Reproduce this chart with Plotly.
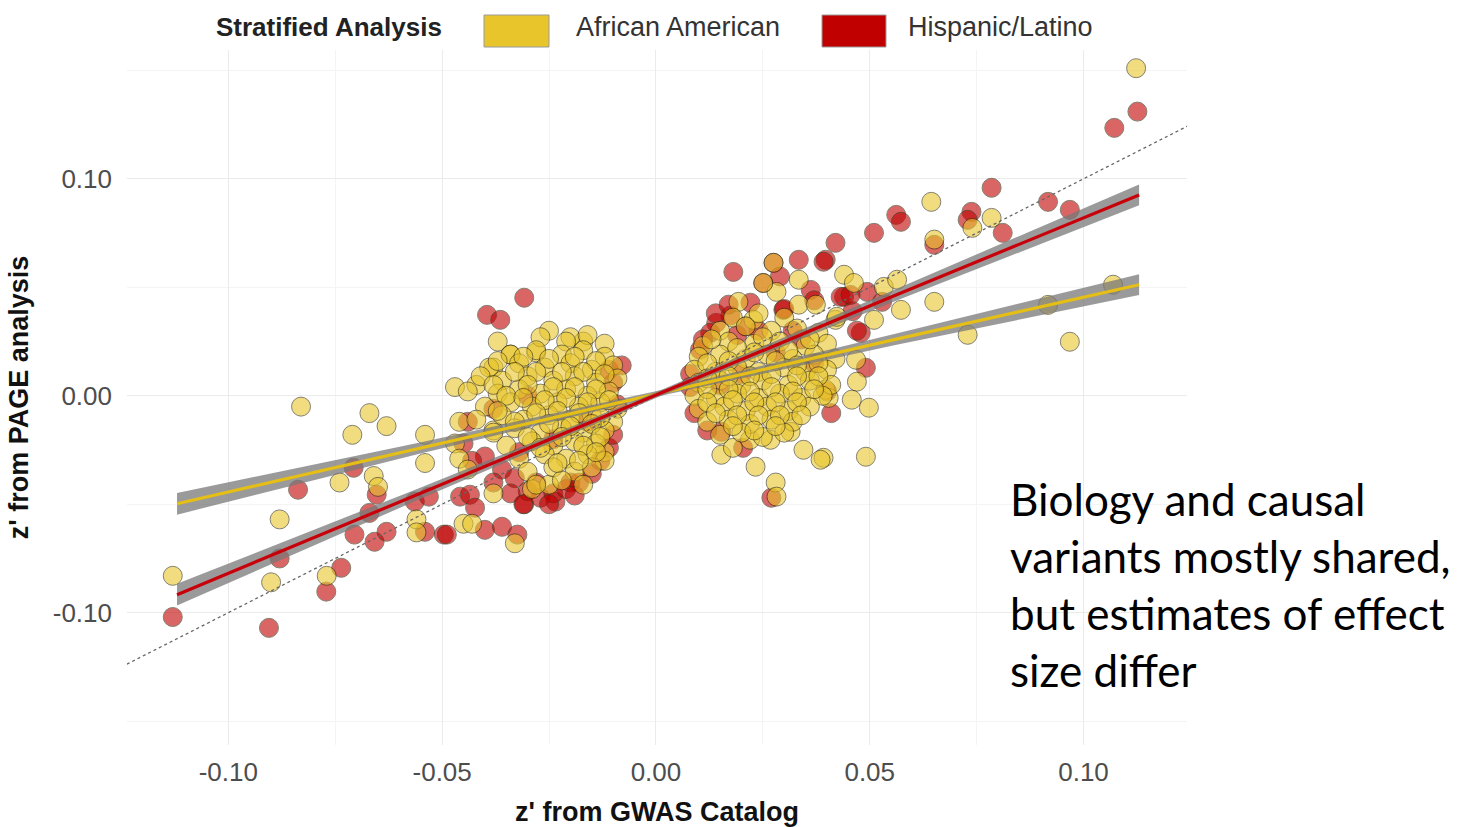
import plotly.graph_objects as go

# ---------------- data ----------------
aa_points = [
    # outer left
    (-0.113, -0.083), (-0.090, -0.086), (-0.088, -0.057), (-0.083, -0.005), (-0.071, -0.018),
    (-0.067, -0.008), (-0.063, -0.014), (-0.074, -0.040), (-0.077, -0.083), (-0.066, -0.037),
    (-0.065, -0.042), (-0.054, -0.018), (-0.054, -0.031), (-0.056, -0.057), (-0.056, -0.063),
    # around left cluster
    (-0.047, 0.004), (-0.042, 0.005), (-0.037, 0.025), (-0.025, 0.030), (-0.034, 0.019),
    (-0.028, 0.020), (-0.038, 0.013), (-0.017, 0.025), (-0.020, 0.027), (-0.047, -0.022),
    (-0.046, -0.029), (-0.044, -0.034), (-0.038, -0.045), (-0.033, -0.068), (-0.045, -0.059),
    (-0.043, -0.059), (-0.012, -0.026), (-0.029, -0.043), (-0.025, -0.041), (-0.038, -0.016),
    (-0.046, -0.012),
    # dense left cluster
    (-0.027, 0.027), (-0.021, 0.025), (-0.016, 0.028), (-0.012, 0.024),
    (-0.034, 0.019), (-0.028, 0.021), (-0.022, 0.019), (-0.017, 0.021), (-0.012, 0.018),
    (-0.039, 0.013), (-0.032, 0.015), (-0.026, 0.013), (-0.020, 0.015), (-0.015, 0.012), (-0.010, 0.014),
    (-0.041, 0.009), (-0.036, 0.007), (-0.030, 0.009), (-0.024, 0.007), (-0.019, 0.009), (-0.014, 0.006), (-0.009, 0.008),
    (-0.044, 0.002), (-0.037, 0.001), (-0.032, 0.003), (-0.027, 0.001), (-0.021, 0.003), (-0.016, 0.000), (-0.011, 0.002),
    (-0.040, -0.005), (-0.034, -0.003), (-0.029, -0.005), (-0.023, -0.003), (-0.018, -0.005), (-0.013, -0.003), (-0.009, -0.006),
    (-0.042, -0.011), (-0.036, -0.009), (-0.031, -0.011), (-0.025, -0.009), (-0.020, -0.011), (-0.015, -0.009), (-0.010, -0.012),
    (-0.038, -0.017), (-0.033, -0.015), (-0.027, -0.017), (-0.022, -0.015), (-0.017, -0.017), (-0.012, -0.016),
    (-0.035, -0.023), (-0.029, -0.021), (-0.024, -0.023), (-0.019, -0.021), (-0.014, -0.022),
    (-0.032, -0.029), (-0.026, -0.027), (-0.021, -0.029), (-0.016, -0.027), (-0.012, -0.030),
    (-0.030, -0.035), (-0.024, -0.033), (-0.019, -0.035), (-0.015, -0.033),
    (-0.028, -0.041), (-0.022, -0.039), (-0.017, -0.041),
    (-0.037, 0.016), (-0.031, 0.018), (-0.025, 0.017), (-0.019, 0.018), (-0.014, 0.016),
    (-0.038, 0.005), (-0.033, 0.011), (-0.028, 0.011), (-0.022, 0.011), (-0.017, 0.011), (-0.012, 0.010),
    (-0.035, -0.000), (-0.030, 0.005), (-0.024, 0.004), (-0.019, 0.004), (-0.014, 0.003),
    (-0.037, -0.007), (-0.031, -0.001), (-0.026, -0.002), (-0.021, -0.001), (-0.016, -0.003), (-0.011, -0.002),
    (-0.033, -0.012), (-0.028, -0.008), (-0.023, -0.007), (-0.018, -0.008), (-0.013, -0.010),
    (-0.030, -0.019), (-0.025, -0.013), (-0.020, -0.014), (-0.015, -0.013),
    (-0.027, -0.024), (-0.022, -0.019), (-0.017, -0.023), (-0.013, -0.019),
    (-0.023, -0.031), (-0.018, -0.030), (-0.014, -0.026),
    # right outer
    (0.1123, 0.151), (0.0644, 0.0894), (0.0785, 0.082), (0.074, 0.0774), (0.0651, 0.072),
    (0.044, 0.0558), (0.0463, 0.052), (0.0533, 0.0502), (0.0564, 0.0535), (0.0651, 0.0433),
    (0.0573, 0.0396), (0.051, 0.035), (0.042, 0.035), (0.0729, 0.0281), (0.0917, 0.0419),
    (0.1069, 0.0512), (0.0968, 0.0249), (0.0468, 0.0166), (0.047, 0.0065), (0.0458, -0.0018),
    (0.0498, -0.0055), (0.0491, -0.0281), (0.0392, -0.0286), (0.0397, 0.0028),
    (0.0153, -0.0272), (0.0233, -0.0327), (0.0268, -0.0203), (0.0345, -0.0249), (0.0385, -0.0295),
    (0.028, -0.040), (0.0282, -0.0465), (0.0315, -0.0166), (0.0404, -0.001), (0.018, -0.024),
    (0.022, -0.0203), (0.0334, 0.0535), (0.0282, 0.0479), (0.0193, 0.0433), (0.0334, 0.042),
    (0.0374, 0.042), (0.0423, 0.0364), (0.0228, 0.035), (0.0275, 0.0613), (0.0251, 0.052),
    # dense right cluster
    (0.018, 0.036), (0.024, 0.038), (0.030, 0.036),
    (0.015, 0.030), (0.021, 0.032), (0.027, 0.030), (0.033, 0.031), (0.038, 0.029),
    (0.011, 0.023), (0.017, 0.025), (0.023, 0.024), (0.029, 0.025), (0.035, 0.023), (0.040, 0.024),
    (0.010, 0.018), (0.015, 0.019), (0.021, 0.017), (0.026, 0.019), (0.032, 0.017), (0.037, 0.019), (0.042, 0.017),
    (0.009, 0.012), (0.014, 0.011), (0.019, 0.013), (0.024, 0.011), (0.030, 0.013), (0.035, 0.011), (0.040, 0.012),
    (0.010, 0.006), (0.015, 0.007), (0.020, 0.005), (0.025, 0.007), (0.031, 0.005), (0.036, 0.007), (0.041, 0.005),
    (0.009, 0.000), (0.014, -0.001), (0.019, 0.001), (0.024, -0.001), (0.029, 0.001), (0.034, -0.001), (0.039, 0.000),
    (0.010, -0.006), (0.016, -0.005), (0.021, -0.007), (0.026, -0.005), (0.031, -0.007), (0.036, -0.005),
    (0.012, -0.012), (0.017, -0.011), (0.022, -0.013), (0.027, -0.011), (0.032, -0.012),
    (0.015, -0.018), (0.020, -0.017), (0.025, -0.019), (0.030, -0.017),
    (0.013, 0.026), (0.019, 0.022), (0.025, 0.027), (0.031, 0.021), (0.036, 0.026),
    (0.012, 0.015), (0.017, 0.016), (0.023, 0.020), (0.028, 0.016), (0.033, 0.014), (0.038, 0.015),
    (0.012, 0.008), (0.017, 0.009), (0.022, 0.009), (0.027, 0.010), (0.033, 0.009), (0.038, 0.009),
    (0.012, 0.003), (0.017, 0.003), (0.022, 0.002), (0.027, 0.004), (0.032, 0.002), (0.037, 0.003),
    (0.012, -0.003), (0.018, -0.002), (0.023, -0.003), (0.028, -0.003), (0.033, -0.003),
    (0.014, -0.008), (0.019, -0.009), (0.024, -0.009), (0.029, -0.009), (0.034, -0.009),
    (0.018, -0.014), (0.023, -0.016), (0.028, -0.014),
]

hl_points = [
    # outer left
    (-0.113, -0.102), (-0.0837, -0.0433), (-0.088, -0.075), (-0.0905, -0.107), (-0.0771, -0.0903),
    (-0.0736, -0.0793), (-0.0707, -0.0332), (-0.067, -0.054), (-0.0653, -0.0456), (-0.0705, -0.064),
    (-0.0658, -0.0673), (-0.063, -0.0627), (-0.0564, -0.0488), (-0.0531, -0.0465), (-0.054, -0.0627),
    (-0.0496, -0.064),
    # left cluster
    (-0.0458, -0.0465), (-0.0435, -0.0456), (-0.0489, -0.064), (-0.040, -0.0618), (-0.036, -0.0604),
    (-0.0324, -0.064), (-0.0423, -0.0516), (-0.020, -0.040), (-0.0235, -0.0488), (-0.0308, -0.050),
    (-0.0395, 0.0373), (-0.0364, 0.035), (-0.0308, 0.0452),
    (-0.040, -0.028), (-0.036, -0.034), (-0.033, -0.038), (-0.030, -0.044), (-0.027, -0.047),
    (-0.024, -0.045), (-0.021, -0.043), (-0.018, -0.040), (-0.015, -0.036), (-0.013, -0.030),
    (-0.011, -0.024), (-0.010, -0.018), (-0.034, -0.045), (-0.028, -0.040), (-0.031, -0.050),
    (-0.025, -0.050), (-0.019, -0.046), (-0.038, -0.040), (-0.043, -0.030), (-0.045, -0.022),
    (-0.044, -0.012), (-0.009, -0.004), (-0.010, 0.006), (-0.011, 0.012), (-0.038, -0.006),
    (-0.030, 0.000), (-0.024, -0.020), (-0.032, -0.026), (-0.016, -0.012), (-0.008, 0.014),
    # right outer
    (0.1126, 0.131), (0.1072, 0.1235), (0.0785, 0.0959), (0.0917, 0.0894), (0.0968, 0.0857),
    (0.0738, 0.0848), (0.0729, 0.0811), (0.0811, 0.0751), (0.0651, 0.0696), (0.0562, 0.0834),
    (0.0573, 0.0802), (0.051, 0.0751), (0.042, 0.0705), (0.0397, 0.0627), (0.044, 0.0456),
    (0.0494, 0.0479), (0.0529, 0.0433), (0.0479, 0.029), (0.0491, 0.0129), (0.046, 0.039),
    # right cluster
    (0.0181, 0.0571), (0.0334, 0.0627), (0.0392, 0.0618), (0.0275, 0.0613), (0.0251, 0.052),
    (0.029, 0.055), (0.0432, 0.0456), (0.0455, 0.0465), (0.047, 0.030), (0.0141, 0.0336),
    (0.0174, 0.037), (0.0127, 0.029), (0.0103, 0.0212), (0.011, 0.026), (0.0221, 0.0429),
    (0.0298, 0.0396), (0.0362, 0.0488), (0.021, 0.032), (0.032, 0.030), (0.037, 0.044),
    (0.027, -0.047), (0.0153, -0.0166), (0.0204, -0.024), (0.008, 0.010), (0.008, 0.004),
    (0.009, -0.008), (0.012, -0.016), (0.040, 0.002), (0.041, -0.008), (0.037, 0.015),
    (0.020, 0.010), (0.015, 0.005), (0.028, 0.020), (0.034, 0.026), (0.019, 0.028),
    (0.024, 0.030), (0.030, 0.040), (0.014, 0.038), (0.017, 0.042),
]

# fitted regression lines and their confidence bands
fit_x = [-0.112, -0.056, 0.0, 0.056, 0.113]
aa_fit = [-0.0498, -0.0245, 0.0008, 0.0260, 0.0512]
aa_half = [0.0050, 0.0026, 0.0013, 0.0026, 0.0048]
hl_fit = [-0.0917, -0.0457, 0.0003, 0.0463, 0.0926]
hl_half = [0.0050, 0.0026, 0.0013, 0.0026, 0.0048]

diag = [-0.13, 0.13]   # identity line y = x

x_ticks = [-0.10, -0.05, 0.00, 0.05, 0.10]
x_ticktext = ["-0.10", "-0.05", "0.00", "0.05", "0.10"]
y_ticks = [-0.10, 0.00, 0.10]
y_ticktext = ["-0.10", "0.00", "0.10"]

groups = ["African American", "Hispanic/Latino"]
legend_title = "Stratified Analysis"
side_text = ["Biology and causal", "variants mostly shared,", "but estimates of effect", "size differ"]

YELLOW = "#E8C52B"
RED = "#C00000"

# ---------------- figure ----------------
fig = go.Figure()

def scatter(points, color, name):
    fig.add_trace(go.Scatter(
        x=[p[0] for p in points], y=[p[1] for p in points], mode="markers", name=name,
        marker=dict(size=19, color=color, opacity=0.6,
                    line=dict(color="rgba(50,45,20,1)", width=1)),
        showlegend=False, hoverinfo="skip"))

scatter(hl_points, RED, groups[1])
scatter(aa_points, YELLOW, groups[0])

def band(fit, half, color):
    upper = [f + h for f, h in zip(fit, half)]
    lower = [f - h for f, h in zip(fit, half)]
    fig.add_trace(go.Scatter(x=fit_x + fit_x[::-1], y=upper + lower[::-1], fill="toself",
                             fillcolor="rgba(120,120,120,0.75)", line=dict(width=0),
                             mode="lines", showlegend=False, hoverinfo="skip"))
    fig.add_trace(go.Scatter(x=fit_x, y=fit, mode="lines", line=dict(color=color, width=3.2),
                             showlegend=False, hoverinfo="skip"))

fig.add_trace(go.Scatter(x=diag, y=diag, mode="lines",
                         line=dict(color="#666666", width=1.3, dash="dot"),
                         showlegend=False, hoverinfo="skip"))
band(aa_fit, aa_half, "#E5BE16")
band(hl_fit, hl_half, "#C8000A")

# ---------------- layout ----------------
L, R, T, B = 127, 277, 50, 82
W, H = 1464, 827
pw, ph = W - L - R, H - T - B

def px(xp):
    return (xp - L) / pw

def py(yp):
    return (H - B - yp) / ph

shapes = [
    dict(type="rect", xref="paper", yref="paper", x0=px(484), x1=px(549), y0=py(47), y1=py(15),
         fillcolor=YELLOW, line=dict(color="#9a9a9a", width=1)),
    dict(type="rect", xref="paper", yref="paper", x0=px(822), x1=px(886), y0=py(47), y1=py(15),
         fillcolor=RED, line=dict(color="#9a9a9a", width=1)),
]

annotations = [
    dict(text="<b>" + legend_title + "</b>", x=px(214), y=py(27), xref="paper", yref="paper",
         xanchor="left", yanchor="middle", showarrow=False,
         font=dict(family="Liberation Sans", size=26, color="#222222")),
    dict(text=groups[0], x=px(574), y=py(27), xref="paper", yref="paper",
         xanchor="left", yanchor="middle", showarrow=False,
         font=dict(family="Liberation Sans", size=27, color="#333333")),
    dict(text=groups[1], x=px(906), y=py(27), xref="paper", yref="paper",
         xanchor="left", yanchor="middle", showarrow=False,
         font=dict(family="Liberation Sans", size=27, color="#333333")),
]
for i, line in enumerate(side_text):
    annotations.append(dict(text=line, x=px(1008), y=py(499 + 57 * i), xref="paper", yref="paper",
                            xanchor="left", yanchor="middle", showarrow=False,
                            font=dict(family="Lato", size=44, color="#000000")))

fig.update_layout(
    width=W, height=H, margin=dict(l=L, r=R, t=T, b=B, autoexpand=False),
    paper_bgcolor="white", plot_bgcolor="white",
    shapes=shapes, annotations=annotations, showlegend=False,
    xaxis=dict(range=[-0.1237, 0.1242], tickvals=x_ticks, ticktext=x_ticktext, automargin=False,
               showgrid=True, gridcolor="#EBEBEB", gridwidth=1.2, zeroline=False, showline=False,
               ticks="", ticklabelstandoff=9,
               tickfont=dict(family="Liberation Sans", size=26, color="#4D4D4D"),
               minor=dict(dtick=0.025, tick0=0, showgrid=True, gridcolor="#F4F4F4", gridwidth=1),
               title=dict(text="<b>z' from GWAS Catalog</b>", standoff=20,
                          font=dict(family="Liberation Sans", size=27, color="#111111"))),
    yaxis=dict(range=[-0.161, 0.1594], tickvals=y_ticks, ticktext=y_ticktext, automargin=False,
               showgrid=True, gridcolor="#EBEBEB", gridwidth=1.2, zeroline=False, showline=False,
               ticks="", ticklabelstandoff=14,
               tickfont=dict(family="Liberation Sans", size=26, color="#4D4D4D"),
               minor=dict(dtick=0.05, tick0=0, showgrid=True, gridcolor="#F4F4F4", gridwidth=1),
               title=dict(text="<b>z' from PAGE analysis</b>", standoff=16,
                          font=dict(family="Liberation Sans", size=27, color="#111111"))),
)

fig.write_html("out.html")
